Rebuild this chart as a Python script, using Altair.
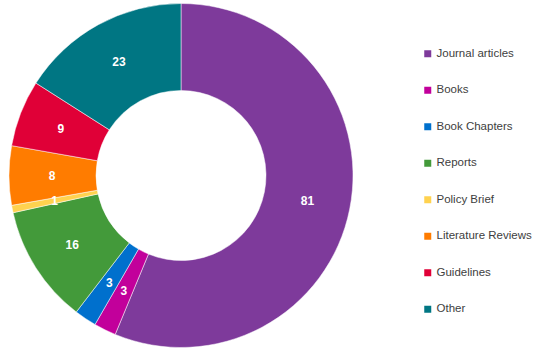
import altair as alt
import pandas as pd

categories = ["Journal articles", "Books", "Book Chapters", "Reports", "Policy Brief",
              "Literature Reviews", "Guidelines", "Other"]
values = [81, 3, 3, 16, 1, 8, 9, 23]
colors = ["#7e3a9b", "#c2009b", "#0070cd", "#439a3a", "#ffd24f", "#ff7c00", "#e00037", "#007683"]

df = pd.DataFrame({"category": categories, "value": values, "idx": list(range(len(values)))})

color = alt.Color("category:N", scale=alt.Scale(domain=categories, range=colors),
                  sort=categories,
                  legend=alt.Legend(title=None, orient="none", legendX=422, legendY=48,
                                    symbolType="square", symbolSize=49, symbolStrokeWidth=0,
                                    labelFont="Liberation Sans", labelFontSize=11.5,
                                    labelColor="#404040", rowPadding=23.5, labelOffset=3))

base = alt.Chart(df).encode(
    theta=alt.Theta("value:Q", stack=True),
    order=alt.Order("idx:Q"),
    x=alt.value(181), y=alt.value(175.5),
)

arcs = base.mark_arc(radius=172, radius2=85, stroke="white", strokeWidth=0.5).encode(color=color)
labels = base.mark_text(radius=129, font="Liberation Sans", fontSize=12, fontWeight="bold",
                        color="white").encode(text="value:Q")

chart = (arcs + labels).properties(
    width=556, height=354, padding=0,
    autosize=alt.AutoSizeParams(type="none"),
).configure_view(stroke=None)

chart.save("out.html", embed_options={"renderer": "svg", "actions": False})
